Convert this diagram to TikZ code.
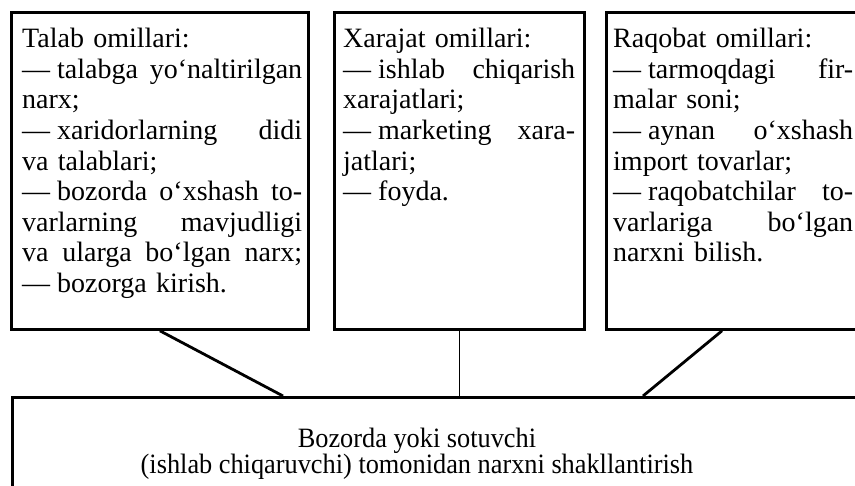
\documentclass[tikz,border=0pt]{standalone}
\usepackage{fontspec}
\setmainfont{Liberation Serif}
\newfontfamily\narrowserif[FakeStretch=0.94]{Liberation Serif}
\usetikzlibrary{positioning,calc}
\newcommand{\fillline}[1]{\makebox[\hsize][s]{\spaceskip=0.25em plus 1fil\relax #1}}
\newcommand{\dashitem}{—\hspace{0.25em}}

\begin{document}
\begin{tikzpicture}[
  x=1pt, y=1pt,
  factor/.style={draw, line width=2.8pt, anchor=north west, minimum height=317pt, inner sep=0pt},
  factortext/.style={inner sep=0pt, align=left, font=\fontsize{28}{30.6}\selectfont},
  link/.style={line width=2.8pt}
]
\useasboundingbox (0,0) rectangle (855,486);

% three groups of factors
\node[factor, minimum width=297pt] (talab) at (10,475) {};
\node[factor, minimum width=250pt] (xarajat) at (333,475) {};
\node[factor, minimum width=262pt] (raqobat) at (605,475) {};

\node[factortext, text width=280pt, below right=17pt and 12pt of talab.north west] (talabtext) {Talab omillari:\\
\fillline{\dashitem talabga yo‘naltirilgan}\\
narx;\\
\fillline{\dashitem xaridorlarning didi}\\
va talablari;\\
\fillline{\dashitem bozorda o‘xshash to-}\\
\fillline{varlarning mavjudligi}\\
\fillline{va ularga bo‘lgan narx;}\\
\dashitem bozorga kirish.};

\node[factortext, text width=232pt, below right=17pt and 10pt of xarajat.north west] (xarajattext) {Xarajat omillari:\\
\fillline{\dashitem ishlab chiqarish}\\
xarajatlari;\\
\fillline{\dashitem marketing xara-}\\
jatlari;\\
\dashitem foyda.};

\node[factortext, text width=240pt, below right=17pt and 8pt of raqobat.north west] (raqobattext) {Raqobat omillari:\\
\fillline{\dashitem tarmoqdagi fir-}\\
malar soni;\\
\fillline{\dashitem aynan o‘xshash}\\
import tovarlar;\\
\fillline{\dashitem raqobatchilar to-}\\
\fillline{varlariga bo‘lgan}\\
narxni bilish.};

% result
\node[factor, minimum width=900pt, minimum height=150pt] (bozor) at (11,90) {};
\node[factortext, align=center, anchor=north, font=\narrowserif\fontsize{28}{26}\selectfont] (bozortext) at (417,58) {Bozorda yoki sotuvchi\\(ishlab chiqaruvchi) tomonidan narxni shakllantirish};

\draw[link] (talab.south) -- ($(bozor.north west)+(272,0)$);
\draw[link, line width=1.6pt] (xarajat.south) -- (xarajat.south |- bozor.north);
\draw[link] ($(raqobat.south west)+(117,0)$) -- ($(bozor.north west)+(632,0)$);
\end{tikzpicture}
\end{document}
